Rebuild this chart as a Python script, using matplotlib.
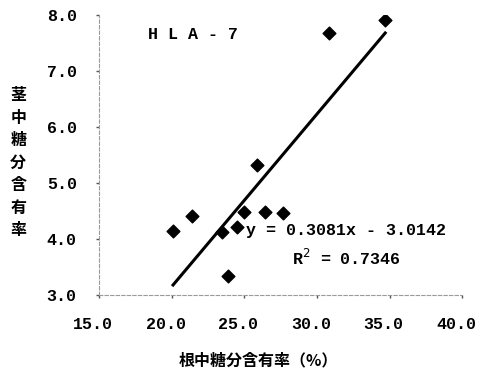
import numpy as np
import matplotlib

matplotlib.use("Agg")
import matplotlib.pyplot as plt
import matplotlib.transforms as mtransforms

# ── Data ──────────────────────────────────────────────────────────────────────
root_sugar = [20.1, 21.4, 23.5, 23.9, 24.5, 25.0, 25.9, 26.4, 27.7, 30.8, 34.7]
stem_sugar = [4.14, 4.41, 4.12, 3.34, 4.21, 4.48, 5.32, 4.48, 4.46, 7.68, 7.91]
slope, intercept = 0.3081, -3.0142
r2 = 0.7346
x_ticks = [15.0, 20.0, 25.0, 30.0, 35.0, 40.0]
y_ticks = [3.0, 4.0, 5.0, 6.0, 7.0, 8.0]
ylabel_chars = list("茎中糖分含有率")
xlabel_text = "根中糖分含有率（%）"
cultivar = "H L A - 7"

MONO = ["Liberation Mono", "DejaVu Sans Mono"]
CJK = ["Noto Sans CJK JP", "DejaVu Sans"]

fig = plt.figure(figsize=(4.78, 3.72), dpi=100)
ax = fig.add_axes([0.207, 0.207, 0.76, 0.753])

ax.scatter(root_sugar, stem_sugar, marker="D", s=42, color="black", zorder=3)

xl = np.array([min(root_sugar), max(root_sugar)])
ax.plot(xl, slope * xl + intercept, color="black", lw=2.2, zorder=2)

ax.set_xlim(15, 40)
ax.set_ylim(3, 8)
ax.set_xticks(x_ticks)
ax.set_yticks(y_ticks)
ax.set_xticklabels([f"{v:.1f}" for v in x_ticks], family=MONO,
                   fontweight="bold", fontsize=12)
ax.set_yticklabels([f"{v:.1f}" for v in y_ticks], family=MONO,
                   fontweight="bold", fontsize=12)
ax.tick_params(axis="both", length=2, width=1, color="#555555")
ax.tick_params(axis="y", pad=14)
ax.tick_params(axis="x", pad=14)

# reference x labels sit a little left of their ticks
shift = mtransforms.ScaledTranslation(-6 / 100, 0, fig.dpi_scale_trans)
for lab in ax.get_xticklabels():
    lab.set_transform(lab.get_transform() + shift)

for side in ["top", "right"]:
    ax.spines[side].set_visible(False)
for side in ["left", "bottom"]:
    ax.spines[side].set_color("#9a9a9a")
    ax.spines[side].set_linewidth(0.8)
    ax.spines[side].set_linestyle((0, (3, 2)))

ax.text(0.135, 0.929, cultivar, transform=ax.transAxes, family=MONO,
        fontweight="bold", fontsize=12, va="center", ha="left")
ax.text(0.405, 0.232, f"y = {slope:.4f}x - {abs(intercept):.4f}",
        transform=ax.transAxes, family=MONO, fontweight="bold",
        fontsize=12, va="center", ha="left")
ax.text(0.532, 0.132, f"R$^2$ = {r2:.4f}", transform=ax.transAxes,
        family=MONO, fontweight="bold", fontsize=12, va="center", ha="left")

# vertical stacked y label
for i, ch in enumerate(ylabel_chars):
    fig.text(0.038, (372 - 95 - i * 22.5) / 372, ch, family=CJK,
             fontweight="bold", fontsize=11.5, ha="center", va="center")

fig.text(0.54, (372 - 360) / 372, xlabel_text, family=CJK,
         fontweight="bold", fontsize=11.5, ha="center", va="center")

fig.savefig("out.png", dpi=100, facecolor="white")
